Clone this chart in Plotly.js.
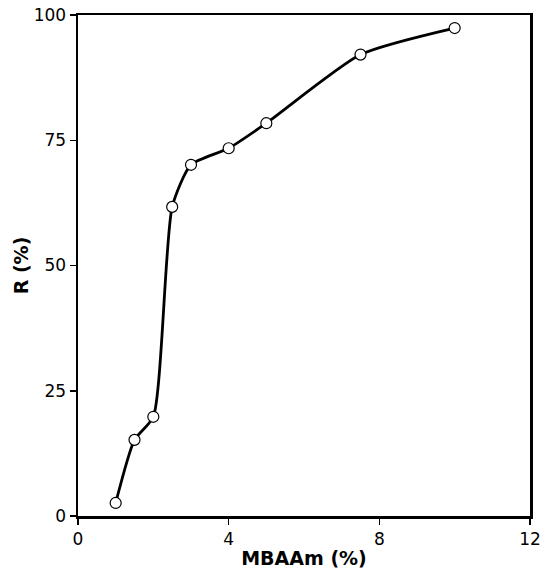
<!DOCTYPE html>
<html>
<head>
<meta charset="utf-8">
<script src="https://cdn.plot.ly/plotly-3.0.1.min.js"></script>
<style>html,body{margin:0;padding:0;background:#fff;}#chart{width:547px;height:575px;}</style>
</head>
<body>
<div id="chart"></div>
<script>
const mbaam = [1, 1.5, 2, 2.5, 3, 4, 5, 7.5, 10];
const rPercent = [2.6, 15.2, 19.8, 61.7, 70.1, 73.4, 78.4, 92.1, 97.4];
const xTicks = [0, 4, 8, 12];
const yTicks = [0, 25, 50, 75, 100];

const fontFam = 'Tahoma, "DejaVu Sans", Verdana, sans-serif';

Plotly.newPlot('chart', [{
  x: mbaam,
  y: rPercent,
  type: 'scatter',
  mode: 'lines+markers',
  line: {color: '#000', width: 2.8, shape: 'spline', smoothing: 0.6},
  marker: {symbol: 'circle', size: 11, color: '#fff', line: {color: '#000', width: 1.2}},
  cliponaxis: false,
  showlegend: false
}], {
  width: 547, height: 575,
  margin: {l: 77.5, r: 16.5, t: 14.5, b: 59},
  paper_bgcolor: '#fff', plot_bgcolor: '#fff',
  font: {family: fontFam, color: '#000', size: 16},
  xaxis: {
    range: [0, 12], tickvals: xTicks, ticktext: xTicks.map(String),
    showgrid: false, zeroline: false,
    showline: true, linecolor: '#000', linewidth: 2.5, mirror: true,
    ticks: 'outside', ticklen: 6, tickwidth: 1.5, tickcolor: '#000',
    tickfont: {size: 17, family: fontFam},
    title: {text: '<b>MBAAm (%)</b>', font: {size: 19, family: fontFam}, standoff: 4}
  },
  yaxis: {
    range: [0, 100], tickvals: yTicks, ticktext: yTicks.map(String),
    showgrid: false, zeroline: false,
    showline: true, linecolor: '#000', linewidth: 2.5, mirror: true,
    ticks: 'outside', ticklen: 6, tickwidth: 1.5, tickcolor: '#000',
    tickfont: {size: 17, family: fontFam},
    title: {text: '<b>R (%)</b>', font: {size: 19, family: fontFam}, standoff: 0}
  }
}, {displayModeBar: false, staticPlot: true});
</script>
</body>
</html>
